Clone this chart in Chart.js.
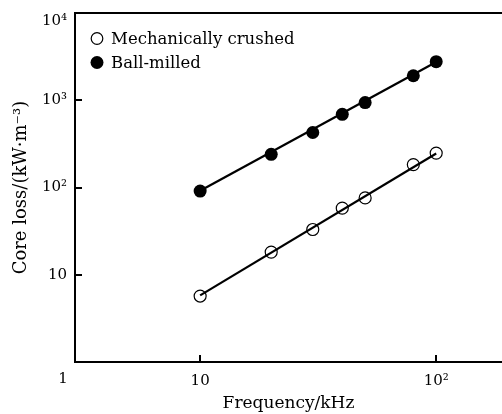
<!DOCTYPE html>
<html>
<head>
<meta charset="utf-8">
<script src="https://cdn.jsdelivr.net/npm/chart.js@4.4.0/dist/chart.umd.min.js"></script>
<style>
  html, body { margin: 0; padding: 0; background: #fff; overflow: hidden; }
  #wrap { width: 502px; height: 414px; }
</style>
</head>
<body>
<div id="wrap"><canvas id="coreLossChart" width="502" height="414"></canvas></div>
<script>
// frequency points, kHz
const freq = [10, 20, 30, 40, 50, 80, 100];
// core loss, kW/m^3
const crushed = [5.7, 18.2, 33, 58, 76, 183, 248];
const milled = [91, 240, 427, 690, 940, 1910, 2770];

// fitted lines at their end points
const fitFreq = [10, 100];
const crushedFit = [5.8, 245];
const milledFit = [92, 2750];

const xTicks = [10, 100];
const xTickLabels = ['10', '10²'];
const yTicks = [10, 100, 1000, 10000];
const yTickLabels = ['10', '10²', '10³', '10⁴'];
// the 10^4 label sits a little below the top frame in the original
const yTopLabelAt = 8150;

const FONT = 'DejaVu Serif';

function toPoints(xs, ys) {
    return xs.map((x, i) => ({ x: x, y: ys[i] }));
}

// top frame line, inward tick marks, the shared "1" at the origin and the legend
const framePlugin = {
    id: 'frame',
    afterDraw(chart) {
        const { ctx, chartArea, scales } = chart;
        ctx.save();
        ctx.strokeStyle = '#000';
        ctx.lineWidth = 2;
        ctx.beginPath();
        ctx.moveTo(chartArea.left - 1, chartArea.top);
        ctx.lineTo(chartArea.right, chartArea.top);
        ctx.stroke();

        ctx.beginPath();
        yTicks.forEach((v) => {
            if (v >= scales.y.max) return;
            const py = Math.round(scales.y.getPixelForValue(v));
            ctx.moveTo(chartArea.left, py);
            ctx.lineTo(chartArea.left + 7, py);
        });
        xTicks.forEach((v) => {
            const px = Math.round(scales.x.getPixelForValue(v));
            ctx.moveTo(px, chartArea.bottom);
            ctx.lineTo(px, chartArea.bottom - 7);
        });
        ctx.stroke();

        ctx.fillStyle = '#000';
        ctx.font = '15px "' + FONT + '"';
        ctx.textAlign = 'center';
        ctx.textBaseline = 'middle';
        ctx.fillText('1', chartArea.left - 12, chartArea.bottom + 17);

        // legend
        ctx.font = '16.5px "' + FONT + '"';
        ctx.textAlign = 'left';
        [0, 1].forEach((i, row) => {
            const ds = chart.data.datasets[i];
            const cx = chartArea.left + 22;
            const cy = chartArea.top + 25.5 + row * 24;
            ctx.beginPath();
            ctx.arc(cx, cy, i === 0 ? 5.8 : 6.5, 0, Math.PI * 2);
            if (i === 0) {
                ctx.lineWidth = 1.2;
                ctx.stroke();
            } else {
                ctx.fillStyle = ds.pointBackgroundColor;
                ctx.fill();
            }
            ctx.fillStyle = '#000';
            ctx.fillText(ds.label, chartArea.left + 36, cy + 1);
        });
        ctx.restore();
    }
};

new Chart(document.getElementById('coreLossChart'), {
    type: 'line',
    data: {
        datasets: [{
            label: 'Mechanically crushed',
            data: toPoints(freq, crushed),
            showLine: false,
            pointRadius: 6,
            pointBorderWidth: 1.2,
            pointBorderColor: '#000',
            pointBackgroundColor: 'rgba(0,0,0,0)',
            order: 0
        }, {
            label: 'Ball-milled',
            data: toPoints(freq, milled),
            showLine: false,
            pointRadius: 6.5,
            pointBorderWidth: 0,
            pointBorderColor: '#000',
            pointBackgroundColor: '#000',
            order: 0
        }, {
            label: 'fit-crushed',
            data: toPoints(fitFreq, crushedFit),
            borderColor: '#000',
            borderWidth: 2.2,
            pointRadius: 0,
            order: 1
        }, {
            label: 'fit-milled',
            data: toPoints(fitFreq, milledFit),
            borderColor: '#000',
            borderWidth: 2.2,
            pointRadius: 0,
            order: 1
        }]
    },
    options: {
        responsive: false,
        animation: false,
        layout: {
            autoPadding: false,
            padding: { top: 13, left: 0, right: 0, bottom: 0 }
        },
        scales: {
            x: {
                type: 'logarithmic',
                min: 2.95,
                max: 190,
                afterBuildTicks: (scale) => {
                    scale.ticks = xTicks.map((v) => ({ value: v }));
                },
                afterFit: (scale) => {
                    scale.height = 52;
                    scale.paddingLeft = 0;
                    scale.paddingRight = 0;
                },
                grid: { display: false, drawTicks: false },
                border: { display: true, color: '#000', width: 2 },
                ticks: {
                    color: '#000',
                    padding: 10,
                    maxRotation: 0,
                    autoSkip: false,
                    font: { family: FONT, size: 15 },
                    callback: (v) => xTickLabels[xTicks.indexOf(v)]
                },
                title: {
                    display: true,
                    text: 'Frequency/kHz',
                    color: '#000',
                    padding: { top: 0, bottom: 0 },
                    font: { family: FONT, size: 17 }
                }
            },
            y: {
                type: 'logarithmic',
                min: 1,
                max: 10000,
                afterBuildTicks: (scale) => {
                    scale.ticks = yTicks.map((v) => ({ value: v >= 10000 ? yTopLabelAt : v }));
                },
                afterFit: (scale) => {
                    scale.width = 75;
                    scale.paddingTop = 0;
                    scale.paddingBottom = 0;
                },
                grid: { display: false, drawTicks: false },
                border: { display: true, color: '#000', width: 2 },
                ticks: {
                    color: '#000',
                    padding: 8,
                    autoSkip: false,
                    font: { family: FONT, size: 15 },
                    callback: (v) => v === yTopLabelAt ? yTickLabels[3] : yTickLabels[yTicks.indexOf(v)]
                },
                title: {
                    display: true,
                    text: 'Core loss/(kW·m⁻³)',
                    color: '#000',
                    padding: { top: 11, bottom: 0 },
                    font: { family: FONT, size: 18 }
                }
            }
        },
        plugins: {
            legend: { display: false },
            tooltip: { enabled: false }
        }
    },
    plugins: [framePlugin]
});
</script>
</body>
</html>
